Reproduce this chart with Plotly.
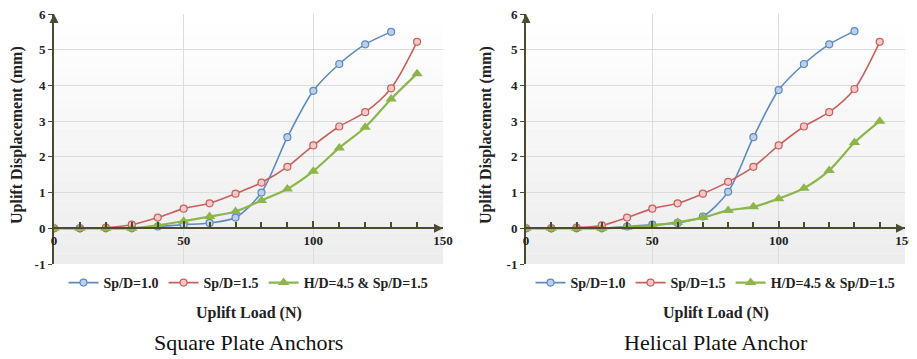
import plotly.graph_objects as go

# ---------------- data ----------------
load = [0, 10, 20, 30, 40, 50, 60, 70, 80, 90, 100, 110, 120, 130, 140]
load_sp10 = load[:14]

sq_sp10 = [0, 0, 0, 0, 0.05, 0.1, 0.15, 0.3, 1.0, 2.55, 3.85, 4.6, 5.15, 5.5]
sq_sp15 = [0, 0, 0.02, 0.1, 0.3, 0.55, 0.7, 0.97, 1.28, 1.72, 2.32, 2.85, 3.25, 3.92, 5.22]
sq_hd45 = [0, 0, 0, 0, 0.08, 0.2, 0.33, 0.47, 0.78, 1.1, 1.6, 2.25, 2.83, 3.62, 4.33]

he_sp10 = [0, 0, 0, 0, 0.05, 0.1, 0.15, 0.33, 1.02, 2.55, 3.87, 4.6, 5.15, 5.52]
he_sp15 = [0, 0, 0.02, 0.08, 0.3, 0.55, 0.7, 0.97, 1.3, 1.72, 2.32, 2.85, 3.25, 3.9, 5.22]
he_hd45 = [0, 0, 0, 0, 0.03, 0.07, 0.17, 0.3, 0.5, 0.6, 0.83, 1.12, 1.62, 2.4, 3.0]

series_names = ["Sp/D=1.0", "Sp/D=1.5", "H/D=4.5 &amp; Sp/D=1.5"]
panel_titles = ["Square Plate Anchors", "Helical Plate Anchor"]
x_title = "Uplift Load (N)"
y_title = "Uplift Displacement (mm)"
x_tickvals = [0, 50, 100, 150]
x_ticktext = ["0", "50", "100", "150"]
y_tickvals = [-1, 0, 1, 2, 3, 4, 5, 6]
y_ticktext = ["-1", "0", "1", "2", "3", "4", "5", "6"]

# ---------------- styling ----------------
# the page body has an 8px margin, so the figure is drawn 8px in from the top-left
OFF = 8
W, H = 917 - OFF, 359 - OFF
SERIF = "Liberation Serif, Times New Roman, serif"
AX_COL = "#4d4a32"
BLUE, BLUE_F = "#5b8ac6", "#bcd0ea"
RED, RED_F = "#c9605c", "#f4c9c7"
GREEN = "#8db64a"


def px(xp):
    return (xp - OFF) / W


def py(yp):
    return 1 - (yp - OFF) / H


ydom = [py(264), py(14)]
xdoms = [[px(54), px(443)], [px(526), px(905)]]
yrange = [-1, 6]
x0_pos = ydom[0] + (0 - yrange[0]) / (yrange[1] - yrange[0]) * (ydom[1] - ydom[0])


def b(s):
    return "<b>" + s + "</b>"


fig = go.Figure()

panels = [
    (sq_sp10, sq_sp15, sq_hd45),
    (he_sp10, he_sp15, he_hd45),
]

for i, (s10, s15, hd) in enumerate(panels):
    xa = "x" if i == 0 else "x2"
    ya = "y" if i == 0 else "y2"
    lg = "legend" if i == 0 else "legend2"
    fig.add_trace(go.Scatter(
        x=load_sp10, y=s10, name=b(series_names[0]), xaxis=xa, yaxis=ya, legend=lg,
        mode="lines+markers", line=dict(color=BLUE, width=1.6, shape="spline", smoothing=0.8),
        marker=dict(symbol="circle", size=7, color=BLUE_F, line=dict(color=BLUE, width=1.2))))
    fig.add_trace(go.Scatter(
        x=load, y=s15, name=b(series_names[1]), xaxis=xa, yaxis=ya, legend=lg,
        mode="lines+markers", line=dict(color=RED, width=1.6, shape="spline", smoothing=0.8),
        marker=dict(symbol="circle", size=7, color=RED_F, line=dict(color=RED, width=1.2))))
    fig.add_trace(go.Scatter(
        x=load, y=hd, name=b(series_names[2]), xaxis=xa, yaxis=ya, legend=lg,
        mode="lines+markers", line=dict(color=GREEN, width=2.2, shape="spline", smoothing=0.8),
        marker=dict(symbol="triangle-up", size=10, color=GREEN, line=dict(color=GREEN, width=0))))

axis_font = dict(family=SERIF, size=13, color="#222")

for i in range(2):
    suffix = "" if i == 0 else "2"
    fig.layout["xaxis" + suffix] = dict(
        domain=xdoms[i], range=[0, 150], anchor="free", position=x0_pos, automargin=False,
        tickmode="array", tickvals=x_tickvals, ticktext=[b(t) for t in x_ticktext],
        ticklabeloverflow="allow",
        showgrid=True, gridcolor="#dcdcdc", gridwidth=1,
        showline=True, linecolor=AX_COL, linewidth=2, zeroline=False,
        ticks="inside", ticklen=6, tickcolor=AX_COL, tickwidth=1.5,
        minor=dict(dtick=10, tick0=0, ticks="inside", ticklen=5, tickcolor=AX_COL, tickwidth=1.5, showgrid=False),
        tickfont=axis_font, fixedrange=True,
    )
    fig.layout["yaxis" + suffix] = dict(
        domain=ydom, range=yrange, anchor="x" + suffix, automargin=False,
        tickmode="array", tickvals=y_tickvals, ticktext=[b(t) for t in y_ticktext],
        ticklabeloverflow="allow",
        showgrid=True, gridcolor="#dcdcdc", gridwidth=1,
        showline=True, linecolor=AX_COL, linewidth=2, zeroline=False,
        ticks="outside", ticklen=4, tickcolor=AX_COL,
        tickfont=axis_font, fixedrange=True,
    )

# gradient plot background
shapes = []
nb = 24
for i in range(2):
    suffix = "" if i == 0 else "2"
    for k in range(nb):
        t = k / (nb - 1)
        g = int(round(255 - 18 * (1 - t)))
        shapes.append(dict(type="rect", xref=f"x{suffix} domain", yref=f"y{suffix} domain",
                           x0=0, x1=1, y0=k / nb, y1=(k + 1) / nb, layer="below",
                           line=dict(width=0), fillcolor=f"rgb({g},{g},{g})"))
fig.update_layout(shapes=shapes)

annotations = []
for i in range(2):
    suffix = "" if i == 0 else "2"
    cx = (xdoms[i][0] + xdoms[i][1]) / 2
    annotations.append(dict(x=150, y=0, ax=146, ay=0, xref="x" + suffix, yref="y" + suffix,
                            axref="x" + suffix, ayref="y" + suffix, text="", showarrow=True,
                            arrowhead=2, arrowsize=1.2, arrowwidth=1.5, arrowcolor=AX_COL))
    annotations.append(dict(x=0, y=6, ax=0, ay=5.8, xref="x" + suffix, yref="y" + suffix,
                            axref="x" + suffix, ayref="y" + suffix, text="", showarrow=True,
                            arrowhead=2, arrowsize=1.2, arrowwidth=1.5, arrowcolor=AX_COL))
    annotations.append(dict(x=cx, y=py(313), xref="paper", yref="paper", text=b(x_title),
                            showarrow=False, font=dict(family=SERIF, size=16, color="#222"),
                            xanchor="center", yanchor="middle"))
    annotations.append(dict(x=cx, y=py(342), xref="paper", yref="paper", text=panel_titles[i],
                            showarrow=False, font=dict(family=SERIF, size=22, color="#111"),
                            xanchor="center", yanchor="middle"))
    annotations.append(dict(x=px(17 if i == 0 else 486), y=py(135), xref="paper", yref="paper",
                            text=b(y_title), textangle=-90, showarrow=False,
                            font=dict(family=SERIF, size=16, color="#222"),
                            xanchor="center", yanchor="middle"))

legend_font = dict(family=SERIF, size=14, color="#222")
fig.update_layout(
    width=W, height=H, margin=dict(l=0, r=0, t=0, b=0, autoexpand=False),
    paper_bgcolor="white", plot_bgcolor="white",
    showlegend=True,
    legend=dict(orientation="h", x=(xdoms[0][0] + xdoms[0][1]) / 2, xanchor="center",
                y=py(283), yanchor="middle", font=legend_font, bgcolor="rgba(0,0,0,0)",
                itemwidth=30, tracegroupgap=0),
    legend2=dict(orientation="h", x=(xdoms[1][0] + xdoms[1][1]) / 2, xanchor="center",
                 y=py(283), yanchor="middle", font=legend_font, bgcolor="rgba(0,0,0,0)",
                 itemwidth=30, tracegroupgap=0),
    annotations=annotations,
)

fig.write_html("out.html")
